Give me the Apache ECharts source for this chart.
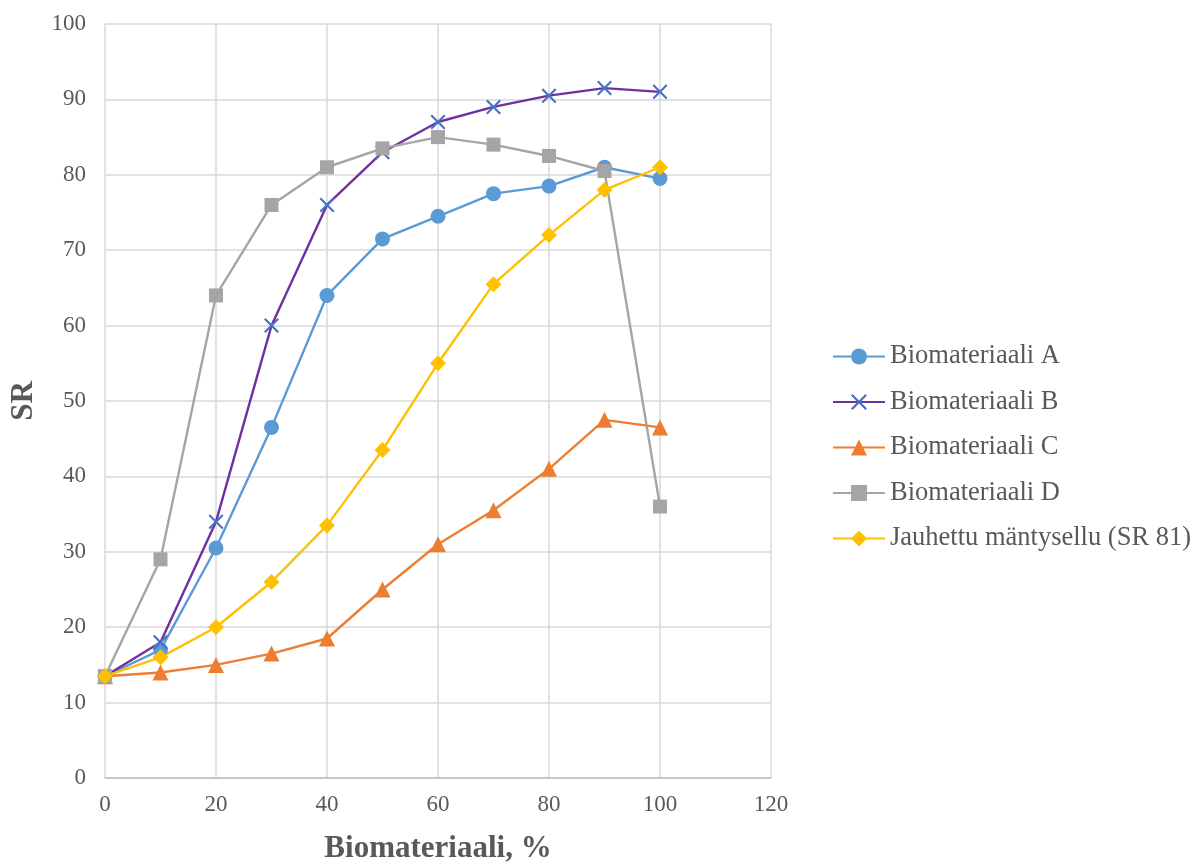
<!DOCTYPE html>
<html>
<head>
<meta charset="utf-8">
<script src="https://cdn.jsdelivr.net/npm/echarts@6/dist/echarts.min.js"></script>
<style>
  html, body { margin: 0; padding: 0; background: #fff; }
  #chart { width: 1194px; height: 863px; }
</style>
</head>
<body>
<div id="chart"></div>
<script>
const xValues = [0, 10, 20, 30, 40, 50, 60, 70, 80, 90, 100];
const seriesNames = ['Biomateriaali A', 'Biomateriaali B', 'Biomateriaali C', 'Biomateriaali D', 'Jauhettu mäntysellu (SR 81)'];
const bioA = [13.5, 17, 30.5, 46.5, 64, 71.5, 74.5, 77.5, 78.5, 81, 79.5];
const bioB = [13.5, 18, 34, 60, 76, 83, 87, 89, 90.5, 91.5, 91];
const bioC = [13.5, 14, 15, 16.5, 18.5, 25, 31, 35.5, 41, 47.5, 46.5];
const bioD = [13.5, 29, 64, 76, 81, 83.5, 85, 84, 82.5, 80.5, 36];
const pulp = [13.5, 16, 20, 26, 33.5, 43.5, 55, 65.5, 72, 78, 81];

const font = '"Liberation Serif", "Times New Roman", serif';
const crossPath = 'path://M0,1L1,0L5,4L9,0L10,1L6,5L10,9L9,10L5,6L1,10L0,9L4,5Z';

function pairs(ys) {
  return xValues.map((x, i) => [x, ys[i]]);
}

function line(name, ys, lineColor, markColor, symbol, size) {
  return {
    name: name,
    type: 'line',
    data: pairs(ys),
    symbol: symbol,
    symbolSize: size,
    lineStyle: { color: lineColor, width: 2.4 },
    itemStyle: { color: markColor },
    emphasis: { disabled: true }
  };
}

const chart = echarts.init(document.getElementById('chart'));
chart.setOption({
  animation: false,
  backgroundColor: '#ffffff',
  grid: { left: 105, right: 423, top: 24, bottom: 85, outerBoundsMode: 'none' },
  legend: {
    orient: 'vertical',
    left: 827,
    top: 338,
    itemWidth: 52,
    itemHeight: 20,
    itemGap: 18.5,
    textStyle: { fontFamily: font, fontSize: 26.5, color: '#595959' },
    data: seriesNames
  },
  xAxis: {
    type: 'value',
    min: 0,
    max: 120,
    interval: 20,
    name: 'Biomateriaali, %',
    nameLocation: 'middle',
    nameGap: 55,
    nameTextStyle: { fontFamily: font, fontSize: 31, fontWeight: 'bold', color: '#595959' },
    axisLine: { lineStyle: { color: '#BFBFBF', width: 1.5 } },
    axisTick: { show: false },
    axisLabel: { fontFamily: font, fontSize: 23, color: '#595959', margin: 15 },
    splitLine: { lineStyle: { color: '#D9D9D9', width: 1.5 } }
  },
  yAxis: {
    type: 'value',
    min: 0,
    max: 100,
    interval: 10,
    name: 'SR',
    nameLocation: 'middle',
    nameGap: 66,
    nameRotate: 90,
    nameTextStyle: { fontFamily: font, fontSize: 31, fontWeight: 'bold', color: '#595959' },
    axisLine: { show: false },
    axisTick: { show: false },
    axisLabel: { fontFamily: font, fontSize: 23, color: '#595959', margin: 19 },
    splitLine: { lineStyle: { color: '#D9D9D9', width: 1.5 } }
  },
  series: [
    line(seriesNames[0], bioA, '#5B9BD5', '#5B9BD5', 'circle', 15),
    line(seriesNames[1], bioB, '#7030A0', '#4472C4', crossPath, 15),
    line(seriesNames[2], bioC, '#ED7D31', '#ED7D31', 'triangle', 16),
    line(seriesNames[3], bioD, '#A5A5A5', '#A5A5A5', 'rect', 14),
    line(seriesNames[4], pulp, '#FFC000', '#FFC000', 'diamond', 16)
  ]
});
</script>
</body>
</html>
